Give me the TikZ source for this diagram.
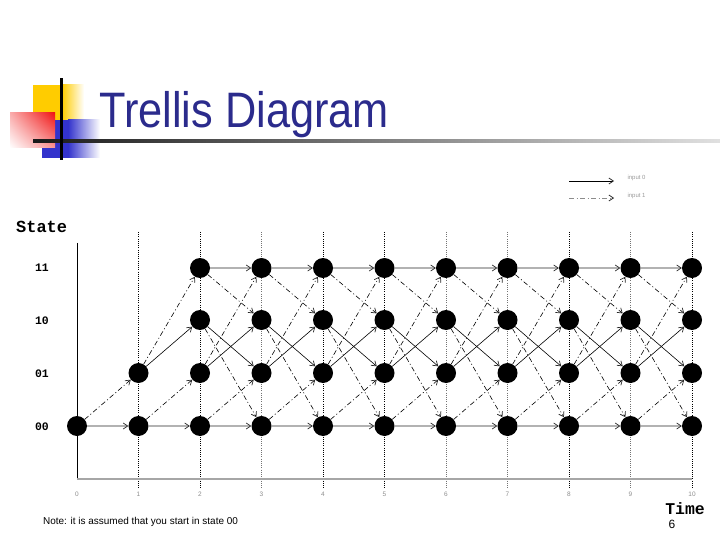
\documentclass[tikz,border=0pt]{standalone}
\usepackage{fontspec}
\setmainfont{Liberation Sans}
\newfontfamily\monob{Liberation Mono}
\usetikzlibrary{arrows.meta,shadings}
\definecolor{titleblue}{RGB}{43,43,140}
\definecolor{logoyellow}{RGB}{255,204,0}
\definecolor{logoblue}{RGB}{51,51,204}
\definecolor{logored}{RGB}{240,20,20}
\tikzset{
  statenode/.style={circle,fill=black,minimum size=20bp,inner sep=0pt},
  tip/.style={-{Straight Barb[length=4.5bp,width=6bp,line width=0.7bp,color=black!85]}},
  grayedge/.style={tip,draw=black!30,line width=1.4bp},
  solidedge/.style={tip,draw=black,line width=0.6bp},
  ddedge/.style={tip,draw=black,line width=0.6bp,dash pattern=on 5bp off 2.5bp on 1bp off 2.5bp},
  vdark/.style={draw=black,line width=0.8bp,dash pattern=on 1bp off 1.2bp},
  vlight/.style={draw=black!55,line width=0.8bp,dash pattern=on 1bp off 1.2bp},
  statelbl/.style={font=\monob\bfseries\fontsize{11.5}{12}\selectfont},
  ticklbl/.style={font=\fontsize{6.5}{7}\selectfont,text=black!45},
  legtxt/.style={font=\fontsize{6}{7}\selectfont,text=black!40,anchor=west}
}
\begin{document}
\begin{tikzpicture}[x=1bp,y=-1bp]
\useasboundingbox (0,0) rectangle (720,540);
% logo
\fill[logoyellow] (33,85) rectangle (62,121);
\shade[left color=logoyellow,right color=white] (62,85) rectangle (84,121);
\fill[logoblue] (42,120) rectangle (68,158);
\shade[left color=logoblue,right color=white] (68,120) rectangle (100,158);
\shade[upper right=logored,upper left=logored!35,lower left=white,lower right=logored!45] (10,113) rectangle (55,148);
\shade[left color=black!90,right color=black!12] (33,140) rectangle (720,142.5);
\fill[black] (60,78) rectangle (62.5,160);
\node[anchor=base west,inner sep=0pt,text=titleblue,font=\fontsize{50}{50}\selectfont] (title) at (99,128) {\scalebox{0.87}[1]{Trellis Diagram}};
% legend
\coordinate (la1) at (569,181); \coordinate (lb1) at (614,181);
\coordinate (la2) at (569,198); \coordinate (lb2) at (614,198);
\draw[solidedge] (la1) -- (lb1);
\draw[ddedge,draw=black!45] (la2) -- (lb2);
\node[legtxt] (lt1) at (624,178) {input 0};
\node[legtxt] (lt2) at (624,196) {input 1};
% axis labels
\node[font=\monob\bfseries\fontsize{17}{17}\selectfont,anchor=base west,inner sep=0pt] (statehdr) at (16,233) {State};
\node[font=\monob\bfseries\fontsize{16.5}{17}\selectfont,anchor=base east,inner sep=0pt] (timehdr) at (705,514) {Time};
\node[statelbl] (l11) at (42,268) {11};
\node[statelbl] (l10) at (42,321) {10};
\node[statelbl] (l01) at (42,374) {01};
\node[statelbl] (l00) at (42,427) {00};
% vertical dotted lines and ticks
\foreach \t/\st in {1/vdark,2/vdark,3/vlight,4/vdark,5/vdark,6/vlight,7/vlight,8/vdark,9/vlight,10/vdark}{
  \coordinate (vt\t) at ({77+61.5*\t},232);
  \coordinate (vb\t) at ({77+61.5*\t},488);
  \draw[\st] (vt\t) -- (vb\t);
}
\foreach \t in {0,...,10}{
  \node[ticklbl] (tk\t) at ({77+61.5*\t},494) {\t};
}
% axes
\coordinate (yaxtop) at (77,243);
\coordinate (origin) at (77,479);
\coordinate (xaxend) at (692,479);
\draw[black,line width=1bp] (yaxtop) -- (origin);
\draw[black!35,line width=1.2bp] (origin) -- (xaxend);
% nodes
\node[statenode] (n0-00) at (77,426) {};
\node[statenode] (n1-00) at (138.5,426) {};
\node[statenode] (n1-01) at (138.5,373) {};
\foreach \t in {2,...,10}{
  \node[statenode] (n\t-00) at ({77+61.5*\t},426) {};
  \node[statenode] (n\t-01) at ({77+61.5*\t},373) {};
  \node[statenode] (n\t-10) at ({77+61.5*\t},320) {};
  \node[statenode] (n\t-11) at ({77+61.5*\t},268) {};
}
% edges
\foreach \t in {0,...,9}{
  \pgfmathtruncatemacro\tn{\t+1}
  \draw[grayedge] (n\t-00) -- (n\tn-00);
  \draw[ddedge] (n\t-00) -- (n\tn-01);
  \ifnum\t>0
    \draw[solidedge] (n\t-01) -- (n\tn-10);
    \draw[ddedge] (n\t-01) -- (n\tn-11);
  \fi
  \ifnum\t>1
    \draw[ddedge] (n\t-10) -- (n\tn-00);
    \draw[solidedge] (n\t-10) -- (n\tn-01);
    \draw[ddedge] (n\t-11) -- (n\tn-10);
    \draw[grayedge] (n\t-11) -- (n\tn-11);
  \fi
}
% footer
\node[anchor=base west,inner sep=0pt,font=\fontsize{10}{11}\selectfont] (note) at (43,524) {Note: it is assumed that you start in state 00};
\node[anchor=base,inner sep=0pt,font=\fontsize{12}{12}\selectfont] (pg) at (672,528) {6};
\end{tikzpicture}
\end{document}
